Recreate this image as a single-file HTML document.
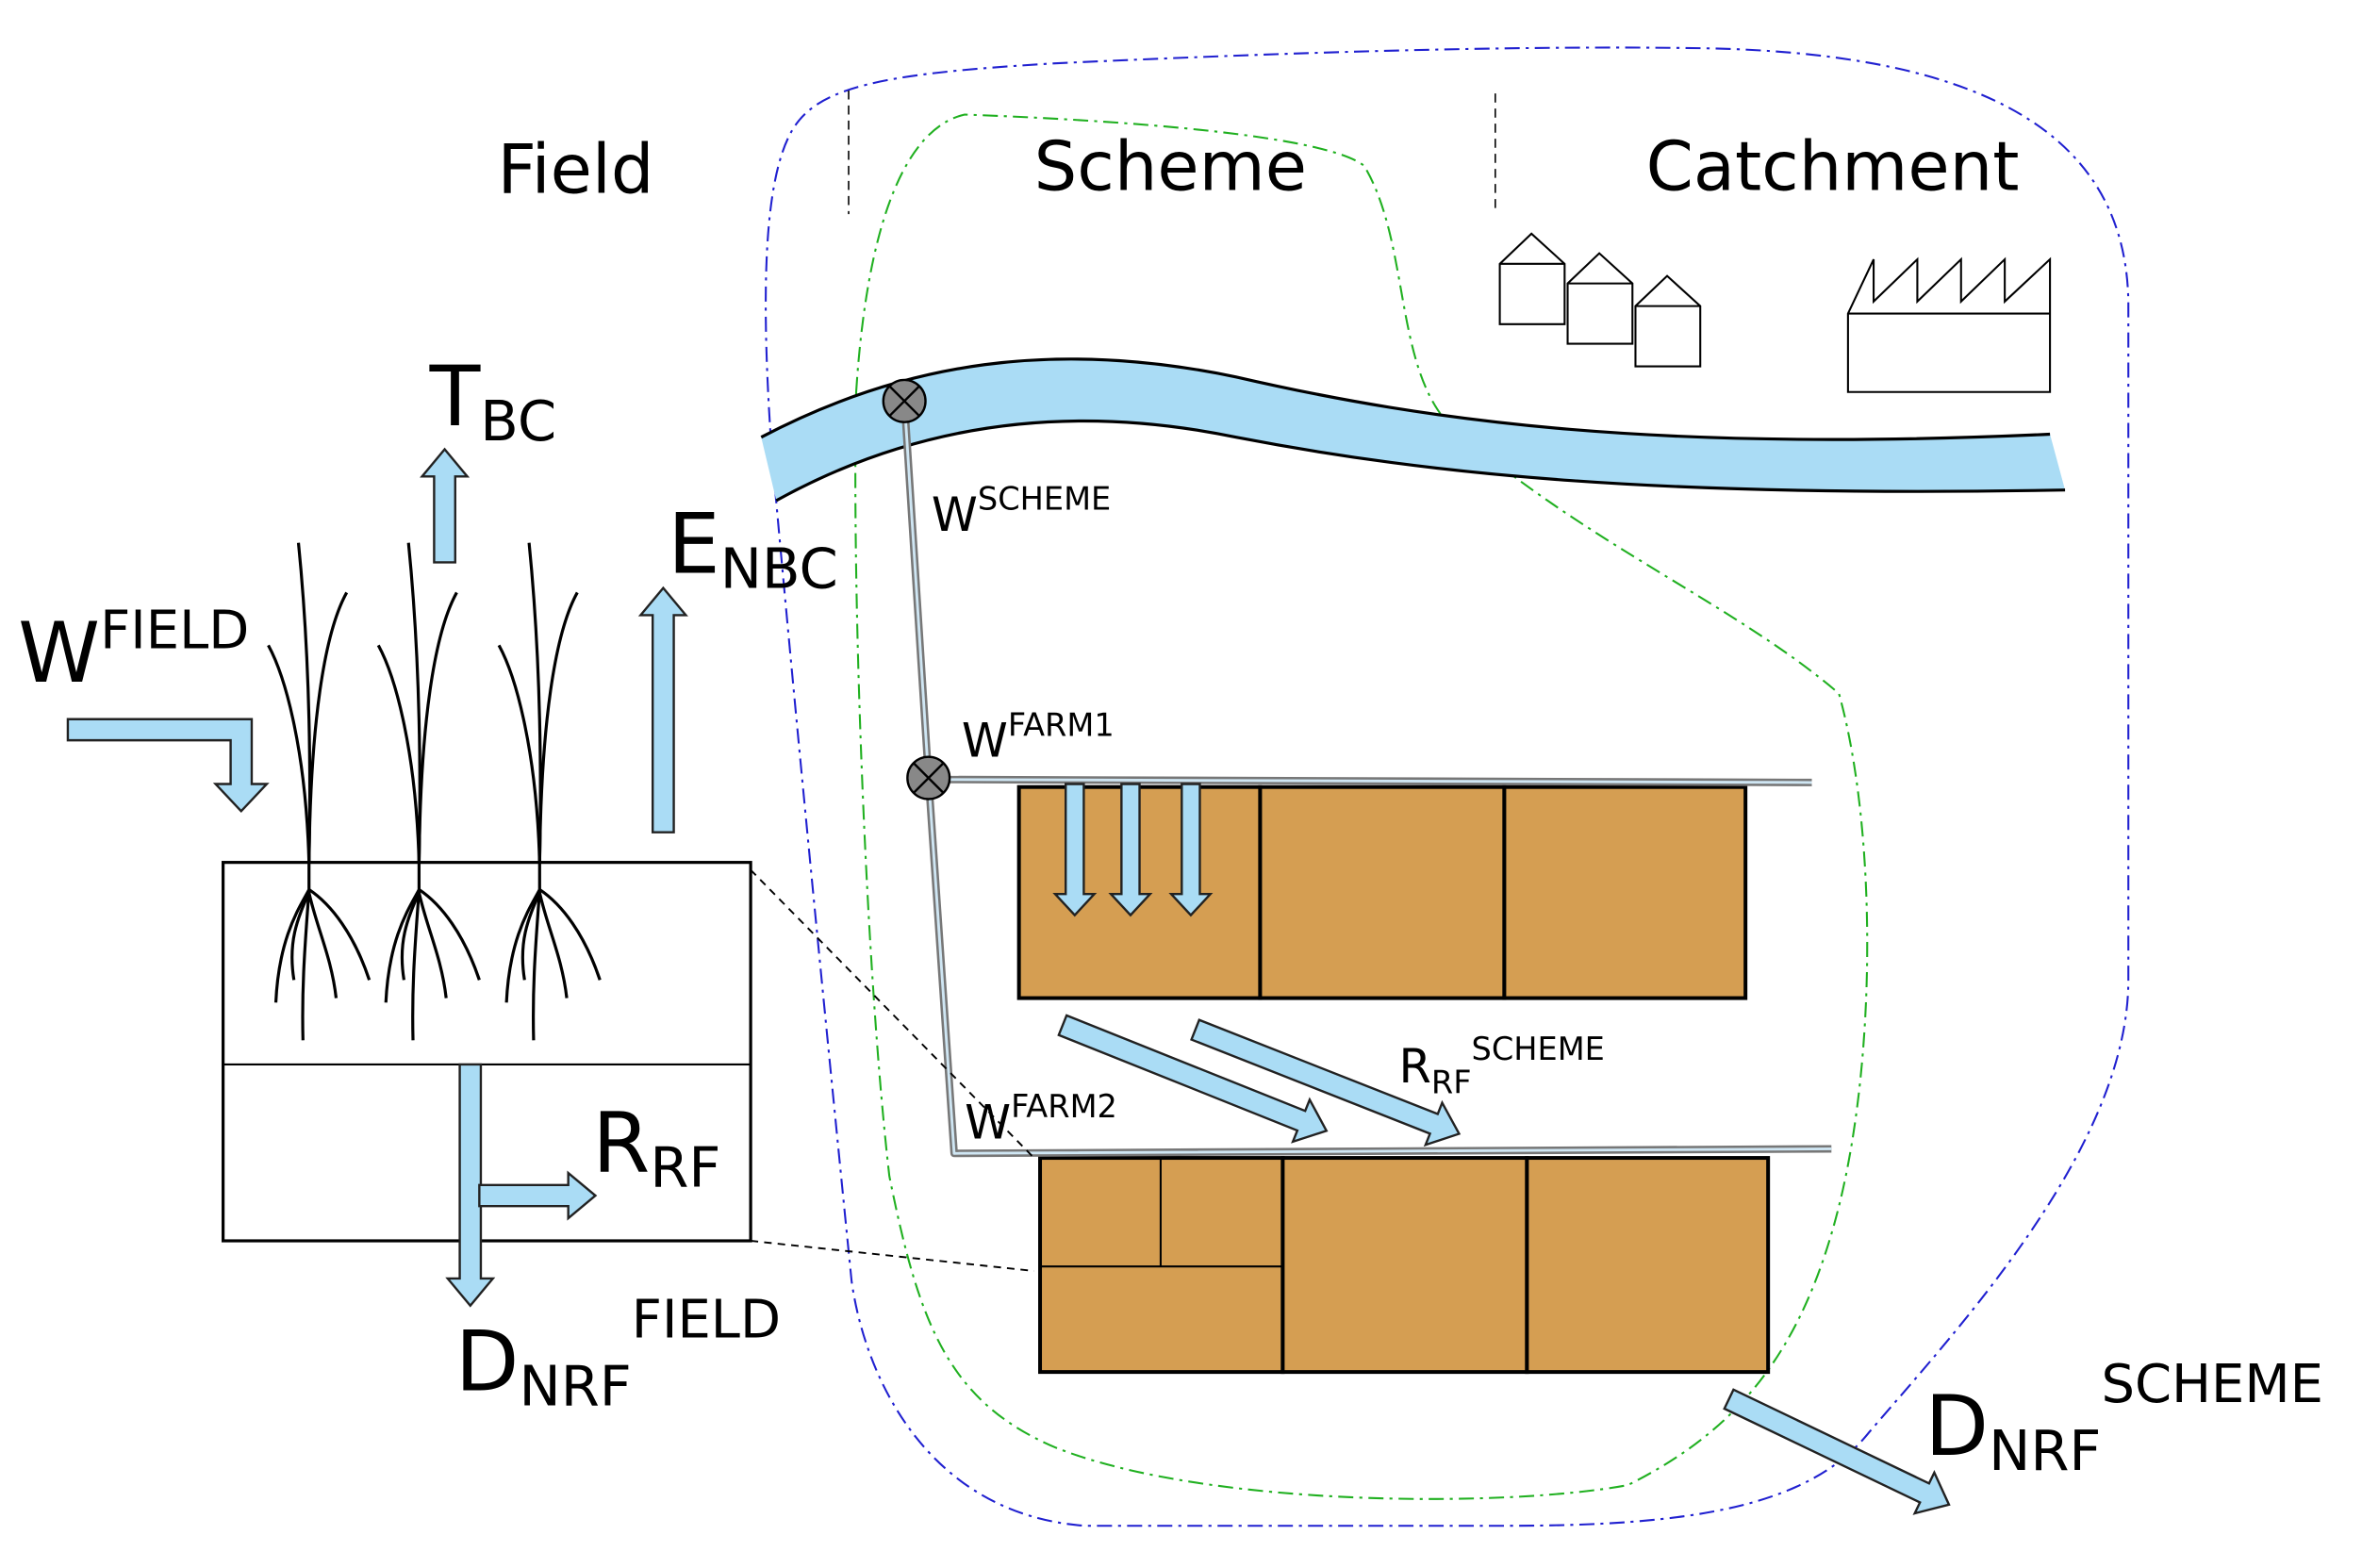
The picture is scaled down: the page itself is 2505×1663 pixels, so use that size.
<!DOCTYPE html>
<html><head><meta charset="utf-8"><style>
html,body{margin:0;padding:0;background:#fff}
svg{display:block}
text{font-family:"DejaVu Sans","Liberation Sans",sans-serif;fill:#000}
</style></head><body>
<svg id="s" width="2505" height="1663" viewBox="0 0 1567 1040" preserveAspectRatio="none" xmlns="http://www.w3.org/2000/svg">
<rect width="1567" height="1040" fill="#fff"/>
<path d="M512,300 C505,200 505,110 530,80 C550,55 600,48 700,42 C850,35 1000,30 1130,32 C1300,35 1410,80 1412,200 L1412,650 C1412,760 1300,880 1240,950 C1200,1000 1120,1012 1000,1012 L720,1012 C620,1005 575,920 565,850 C550,700 530,500 512,300 Z" fill="none" stroke="#2020d0" stroke-width="1.3" stroke-dasharray="10,4,2,4"/>
<path d="M568,260 C575,150 600,85 640,76 C750,80 880,90 905,110 C935,160 925,240 960,280 C1050,360 1150,400 1220,460 C1245,550 1245,700 1220,800 C1195,900 1150,950 1080,985 C1000,1000 800,1000 700,960 C630,930 610,880 590,780 C575,650 565,400 568,260 Z" fill="none" stroke="#20b020" stroke-width="1.3" stroke-dasharray="10,4,2,4"/>
<line x1="563" y1="60" x2="563" y2="142" stroke="#000" stroke-dasharray="6,4"/>
<line x1="992" y1="62" x2="992" y2="142" stroke="#000" stroke-dasharray="6,4"/>
<text x="330" y="128" font-size="45">Field</text>
<text x="686" y="126" font-size="45">Scheme</text>
<text x="1092" y="126" font-size="45">Catchment</text>
<path d="M505,290 C600,240 700,225 820,250 C950,280 1100,300 1360,288 L1370,325 C1100,330 950,315 820,290 C700,265 600,285 515,332 Z" fill="#aadcf5"/>
<path d="M505,290 C600,240 700,225 820,250 C950,280 1100,300 1360,288" fill="none" stroke="#000" stroke-width="2"/>
<path d="M515,332 C600,285 700,265 820,290 C950,315 1100,330 1370,325" fill="none" stroke="#000" stroke-width="2"/>
<g fill="#fff" stroke="#000" stroke-width="1.3">
<path d="M995,215 V175 L1016,155 L1038,175 V215 Z M995,175 H1038"/>
<path d="M1040,228 V188 L1061,168 L1083,188 V228 Z M1040,188 H1083"/>
<path d="M1085,243 V203 L1106,183 L1128,203 V243 Z M1085,203 H1128"/>
<path d="M1226,260 V208 L1243,172 V200 L1272,172 V200 L1301,172 V200 L1330,172 V200 L1360,172 V260 Z M1226,208 H1360"/>
</g>
<g fill="#d59e52" stroke="#000" stroke-width="2.5">
<rect x="676" y="522" width="160" height="140"/><rect x="836" y="522" width="162" height="140"/><rect x="998" y="522" width="160" height="140"/>
<rect x="690" y="768" width="161" height="142"/><rect x="851" y="768" width="162" height="142"/><rect x="1013" y="768" width="160" height="142"/>
</g>
<path d="M690,840 H851 M770,768 V840" stroke="#000" stroke-width="1.3"/>
<g fill="none" stroke-linejoin="round">
<path d="M600,266 L616,516 L633,765 L1215,762 M616,517 L1202,519" stroke="#777" stroke-width="5"/>
<path d="M600,266 L616,516 L633,765 L1215,762 M616,517 L1202,519" stroke="#cfe6f3" stroke-width="1.8"/>
</g>
<g stroke="#000" stroke-width="1.5" fill="#888">
<circle cx="600" cy="266" r="14"/><circle cx="616" cy="516" r="14"/>
<path d="M590,256 L610,276 M610,256 L590,276 M606,506 L626,526 M626,506 L606,526"/>
</g>
<rect x="148" y="572" width="350" height="251" fill="#fff" stroke="#000" stroke-width="2"/>
<line x1="148" y1="706" x2="498" y2="706" stroke="#000" stroke-width="1.3"/>
<path d="M498,577 L686,768 M498,823 L686,843" stroke="#000" stroke-dasharray="5,4" stroke-width="1.2"/>
<g id="plants" fill="none" stroke="#000" stroke-width="2"></g>
<g id="arrows" fill="#aadcf5" stroke="#222" stroke-width="1.5"></g>
<text x="285" y="282" font-size="55">T<tspan font-size="37" dy="10">BC</tspan></text>
<text x="443" y="380" font-size="55">E<tspan font-size="37" dy="10">NBC</tspan></text>
<text x="12" y="452" font-size="55">W<tspan font-size="35" dy="-22">FIELD</tspan></text>
<text x="393" y="777" font-size="55">R<tspan font-size="37" dy="10">RF</tspan></text>
<text x="302" y="922" font-size="55">D<tspan font-size="37" dy="10">NRF</tspan><tspan font-size="35" dy="-45">FIELD</tspan></text>
<text x="1277" y="965" font-size="55">D<tspan font-size="37" dy="10">NRF</tspan><tspan font-size="35" dy="-45">SCHEME</tspan></text>
<text x="618" y="352" font-size="31">W<tspan font-size="21" dy="-14">SCHEME</tspan></text>
<text x="638" y="502" font-size="31">W<tspan font-size="21" dy="-14">FARM1</tspan></text>
<text x="640" y="755" font-size="31">W<tspan font-size="21" dy="-14">FARM2</tspan></text>
<text x="928" y="718" font-size="31">R<tspan font-size="21" dy="7">RF</tspan><tspan font-size="21" dy="-22">SCHEME</tspan></text>
</svg>
<script>
var NS="http://www.w3.org/2000/svg";
function arrow(x1,y1,x2,y2,w,hw,hl){w=w||14;hw=hw||30;hl=hl||18;
var dx=x2-x1,dy=y2-y1,L=Math.hypot(dx,dy),ux=dx/L,uy=dy/L,px=-uy,py=ux;
var bx=x2-ux*hl,by=y2-uy*hl;
var p=[[x1+px*w/2,y1+py*w/2],[bx+px*w/2,by+py*w/2],[bx+px*hw/2,by+py*hw/2],[x2,y2],[bx-px*hw/2,by-py*hw/2],[bx-px*w/2,by-py*w/2],[x1-px*w/2,y1-py*w/2]];
var e=document.createElementNS(NS,"polygon");e.setAttribute("points",p.map(function(a){return a.join(",")}).join(" "));
document.getElementById("arrows").appendChild(e);}
var g=document.getElementById("arrows");
var e=document.createElementNS(NS,"polygon");
e.setAttribute("points","45,477 167,477 167,520 177,520 160,538 143,520 153,520 153,491 45,491");g.appendChild(e);
arrow(295,373,295,298);
arrow(440,552,440,390);
arrow(312,706,312,866);
arrow(318,793,395,793);
arrow(713,520,713,607,12,26,14);arrow(750,520,750,607,12,26,14);arrow(790,520,790,607,12,26,14);
arrow(705,680,880,750);arrow(793,683,968,752);
arrow(1147,928,1293,998);
var pg=document.getElementById("plants");
function pth(d){var p=document.createElementNS(NS,"path");p.setAttribute("d",d);pg.appendChild(p);}
[205,278,358].forEach(function(x){
pth("M"+x+",572 C"+(x+2)+",480 "+(x-2)+",410 "+(x-7)+",360");
pth("M"+x+",572 C"+(x+1)+",480 "+(x+10)+",420 "+(x+25)+",393");
pth("M"+x+",572 C"+(x-2)+",500 "+(x-15)+",450 "+(x-27)+",428");
pth("M"+x+",572 L"+x+",590 C"+(x-5)+",600 "+(x-20)+",620 "+(x-22)+",665");
pth("M"+x+",590 C"+(x+15)+",600 "+(x+30)+",620 "+(x+40)+",650");
pth("M"+x+",590 C"+(x-2)+",620 "+(x-5)+",650 "+(x-4)+",690");
pth("M"+x+",592 C"+(x+5)+",615 "+(x+15)+",635 "+(x+18)+",662");
pth("M"+x+",592 C"+(x-8)+",610 "+(x-14)+",625 "+(x-10)+",650");
});
</script>
</body></html>
